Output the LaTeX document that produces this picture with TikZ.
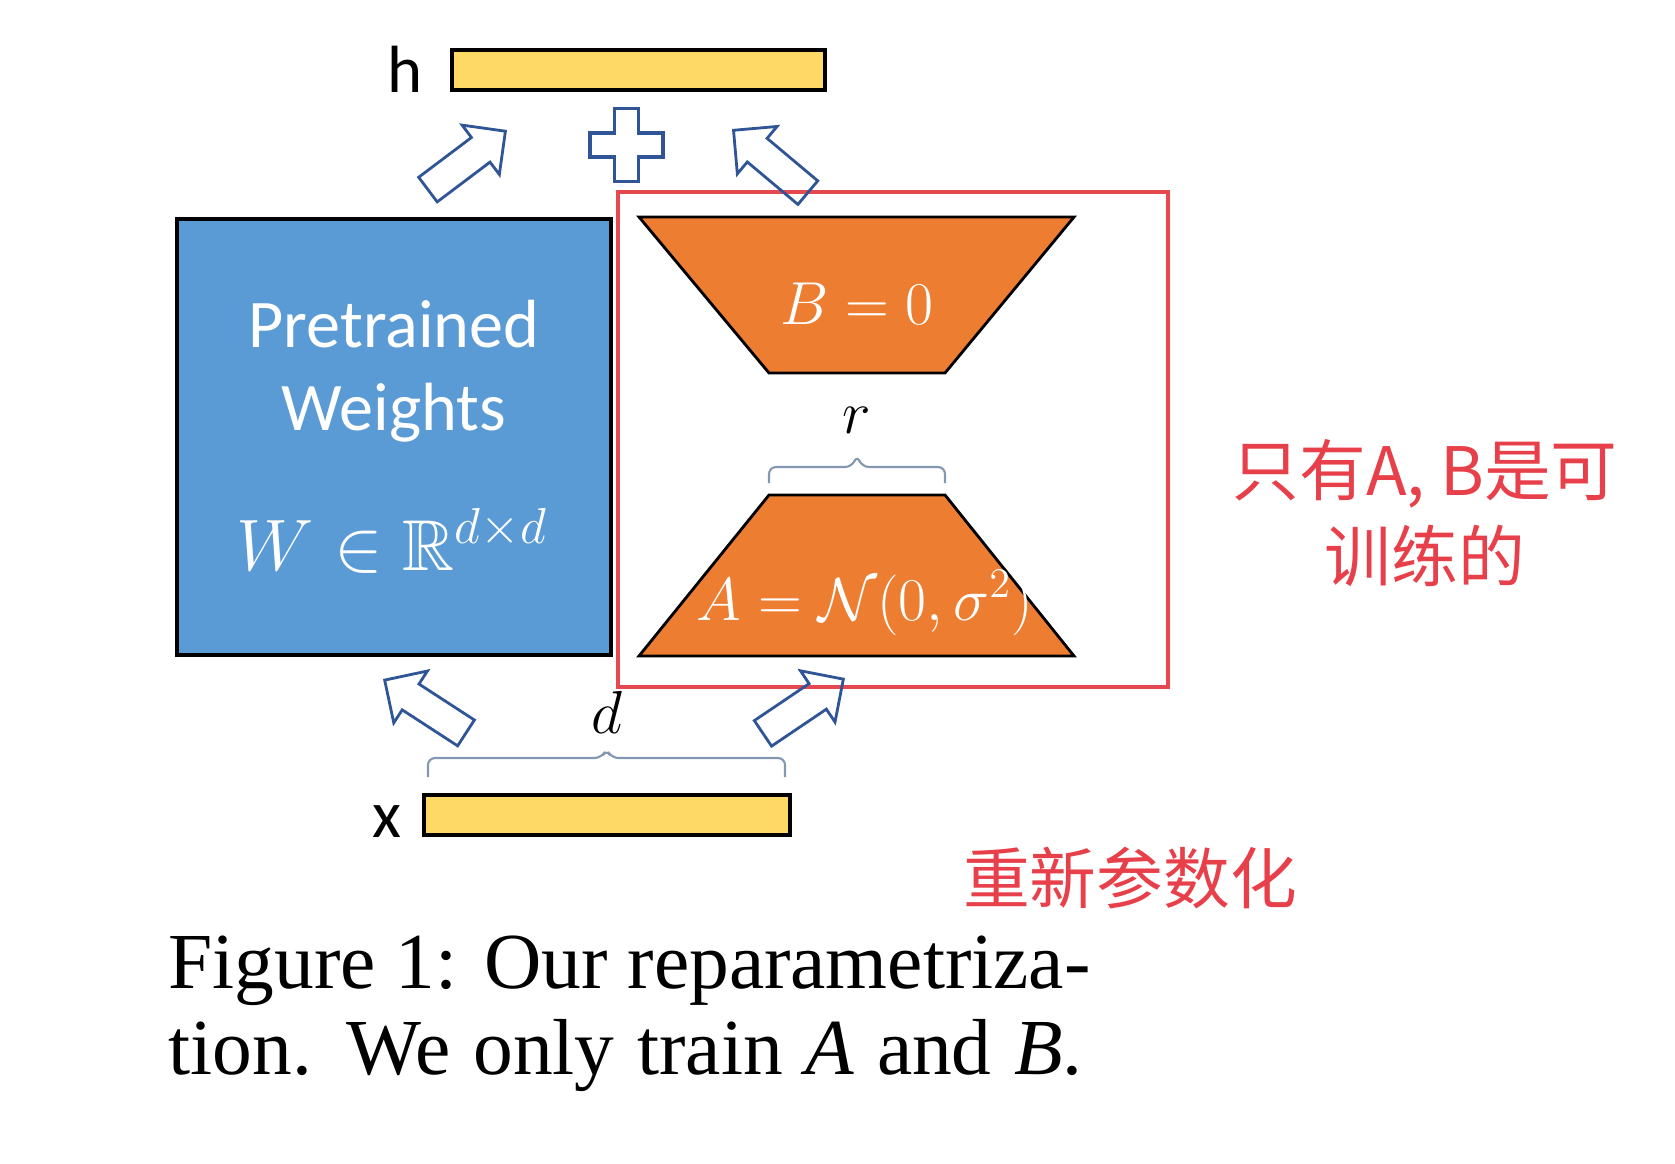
\documentclass[tikz,border=0pt]{standalone}
\usepackage{amssymb}
\usepackage{fontspec}
\setmainfont{Liberation Serif}
\newfontfamily\calibri{Carlito}
\newfontfamily\cjk{Noto Sans CJK SC}
\usetikzlibrary{shapes.arrows,positioning}

\definecolor{wblue}{HTML}{5B9BD5}
\definecolor{lrorange}{HTML}{ED7D31}
\definecolor{vecyellow}{HTML}{FFD966}
\definecolor{arrblue}{HTML}{2F5597}
\definecolor{bracegray}{HTML}{8497B0}
\definecolor{framered}{HTML}{E5484F}
\definecolor{notered}{HTML}{E8404A}

\tikzset{
  vecbar/.style={draw=black,fill=vecyellow,line width=1.1pt,inner sep=0pt},
  wbox/.style={draw=black,fill=wblue,line width=1.1pt,inner sep=0pt},
  wtext/.style={text=white,inner sep=0pt,font=\calibri\fontsize{19.4}{23}\selectfont},
  lowrank/.style={draw=black,fill=lrorange,line width=0.8pt,line join=miter},
  mathlab/.style={inner sep=0pt,font=\fontsize{16.5}{20}\selectfont},
  blockarr/.style={shape=single arrow,draw=arrblue,line width=0.8pt,inner xsep=0pt,
    inner ysep=0.14cm,single arrow head extend=0.155cm,minimum height=0.97cm,anchor=tip},
  bracket/.style={draw=bracegray,line width=0.6pt,rounded corners=2pt},
  cjklab/.style={text=notered,inner sep=0pt,align=center,font=\cjk\fontsize{19}{24.5}\selectfont},
  capt/.style={inner sep=0pt,font=\fontsize{22.6}{27}\selectfont},
}

\begin{document}
\begin{tikzpicture}
\useasboundingbox (0,0) rectangle (16.750,-11.630);
% output h and input x
\node[vecbar,minimum width=3.730cm,minimum height=0.400cm] (hbar) at (6.385,-0.700) {};
\node[inner sep=0pt,anchor=base,font=\calibri\fontsize{19}{22}\selectfont] (hlab) at (4.050,-0.920) {h};
\node[vecbar,minimum width=3.660cm,minimum height=0.400cm] (xbar) at (6.070,-8.150) {};
\node[inner sep=0pt,anchor=base,font=\calibri\fontsize{19}{22}\selectfont] (xlab) at (3.870,-8.370) {x};
% pretrained weights
\node[wbox,minimum width=4.340cm,minimum height=4.360cm] (W) at (3.940,-4.370) {};
\node[wtext,anchor=base] (wname1) at (3.940,-3.470) {Pretrained};
\node[wtext,anchor=base] (wname2) at (3.940,-4.300) {Weights};
\node[text=white,inner sep=0pt,anchor=base,font=\fontsize{20.5}{24}\selectfont] (wmath) at (3.920,-5.700) {$W \in \mathbb{R}^{d\times d}$};
% low-rank part
\draw[framered,line width=1pt] (6.180,-1.920) rectangle (11.680,-6.870);
\draw[lowrank] (6.390,-2.170) -- (10.740,-2.170) -- (9.450,-3.730) -- (7.690,-3.730) -- cycle;
\node[mathlab,text=white,anchor=base] (Blab) at (8.570,-3.240) {$B = 0$};
\draw[lowrank] (7.690,-4.950) -- (9.450,-4.950) -- (10.740,-6.560) -- (6.390,-6.560) -- cycle;
\node[mathlab,text=white,anchor=base] (Alab) at (8.650,-6.200) {$A = \mathcal{N}(0,\sigma^2)$};
% braces
\draw[bracket] (7.690,-4.830) -- (7.690,-4.670) -- (8.520,-4.670) -- (8.570,-4.550) -- (8.620,-4.670) -- (9.450,-4.670) -- (9.450,-4.830);
\node[mathlab,anchor=base] (rlab) at (8.570,-4.330) {$r$};
\draw[bracket] (4.280,-7.770) -- (4.280,-7.580) -- (6.015,-7.580) -- (6.065,-7.490) -- (6.115,-7.580) -- (7.850,-7.580) -- (7.850,-7.770);
\node[mathlab,anchor=base] (dlab) at (6.070,-7.330) {$d$};
% block arrows and plus
\node[blockarr,rotate=37] (upW) at (5.070,-1.300) {};
\node[blockarr,rotate=140] (upBA) at (7.320,-1.290) {};
\node[blockarr,rotate=147] (inW) at (3.830,-6.790) {};
\node[blockarr,rotate=34] (inA) at (8.450,-6.780) {};
\draw[arrblue,line width=1.1pt] (6.145,-1.085) -- (6.385,-1.085) -- (6.385,-1.330) -- (6.630,-1.330) -- (6.630,-1.570) -- (6.385,-1.570) -- (6.385,-1.815) -- (6.145,-1.815) -- (6.145,-1.570) -- (5.900,-1.570) -- (5.900,-1.330) -- (6.145,-1.330) -- cycle;
% notes
\node[cjklab] (trainable) at (14.250,-5.130) {只有A, B是可\\训练的};
\node[cjklab] (reparam) at (11.300,-8.780) {重新参数化};
% caption
\node[capt,anchor=base west] (cap1) at (1.680,-9.880) {Figure 1: Our reparametriza-};
\node[capt,anchor=base west] (cap2) at (1.680,-10.740) {\makebox[9.140cm][s]{tion. We only train \textit{A} and \textit{B}.}};
\end{tikzpicture}
\end{document}
